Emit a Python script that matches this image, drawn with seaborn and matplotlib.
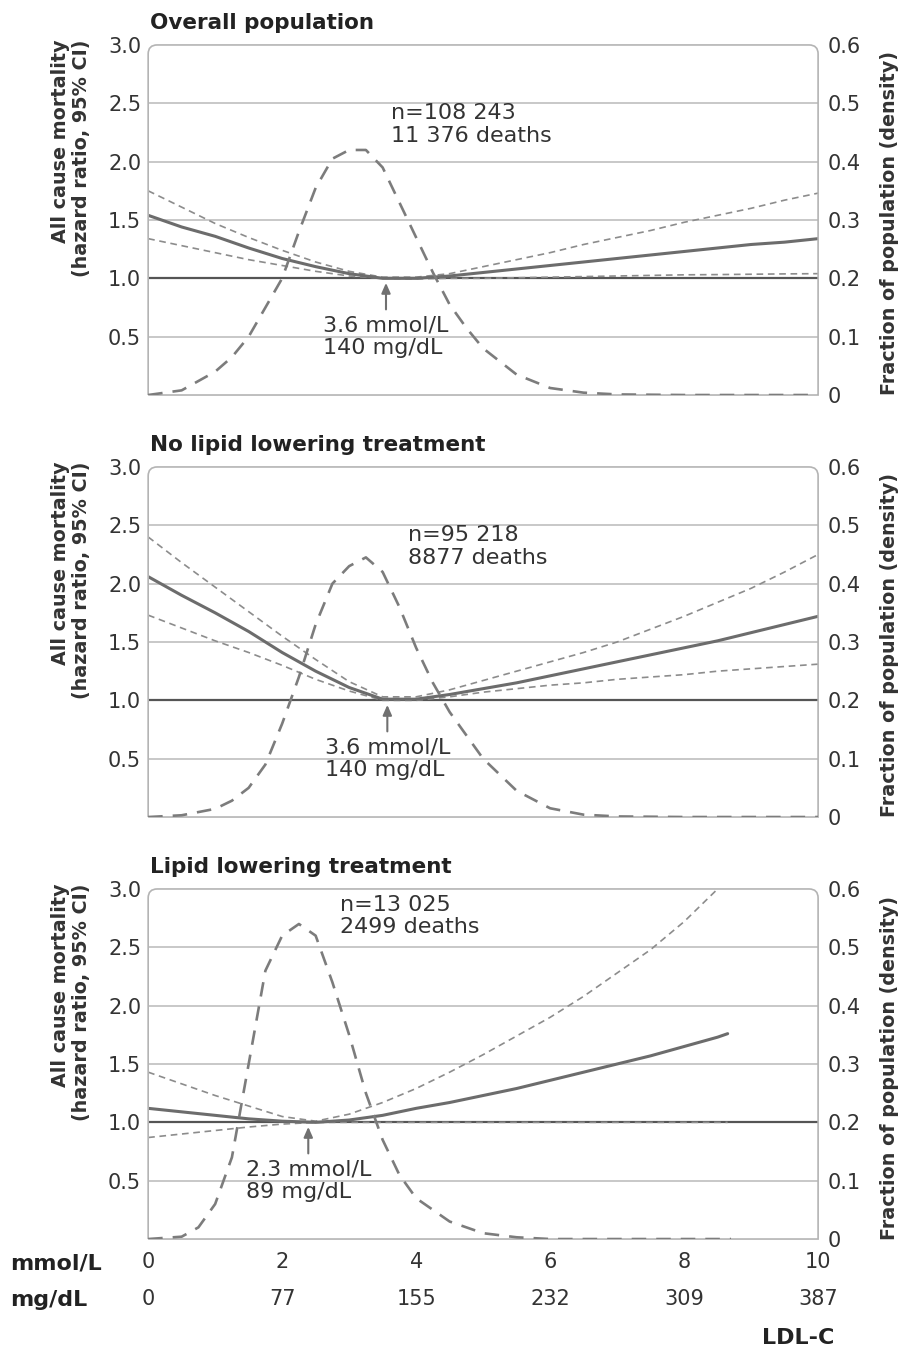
"""
LDL-C and all cause mortality -- three panel hazard ratio / density figure
"""
import numpy as np
import pandas as pd
import matplotlib.pyplot as plt
from matplotlib.path import Path
from matplotlib.patches import PathPatch
import seaborn as sns

# -- Data ----------------------------------------------------------------------
HR_X = [0, 0.5, 1, 1.5, 2, 2.5, 3, 3.5, 4, 4.5, 5, 5.5, 6, 6.5, 7, 7.5, 8, 8.5, 9, 9.5, 10]

P1_HR    = [1.54, 1.44, 1.36, 1.26, 1.17, 1.10, 1.04, 1.00, 1.00, 1.02, 1.05, 1.08, 1.11, 1.14, 1.17, 1.20, 1.23, 1.26, 1.29, 1.31, 1.34]
P1_UPPER = [1.75, 1.61, 1.47, 1.35, 1.24, 1.14, 1.06, 1.01, 1.01, 1.04, 1.10, 1.16, 1.22, 1.29, 1.35, 1.41, 1.48, 1.54, 1.60, 1.67, 1.73]
P1_LOWER = [1.34, 1.28, 1.22, 1.16, 1.11, 1.06, 1.02, 1.00, 0.995, 1.00, 1.00, 1.005, 1.01, 1.015, 1.02, 1.025, 1.03, 1.032, 1.035, 1.038, 1.04]

P2_HR    = [2.06, 1.90, 1.75, 1.59, 1.41, 1.25, 1.11, 1.01, 1.01, 1.05, 1.10, 1.15, 1.21, 1.27, 1.33, 1.39, 1.45, 1.51, 1.58, 1.65, 1.72]
P2_UPPER = [2.40, 2.18, 1.97, 1.76, 1.55, 1.35, 1.16, 1.03, 1.03, 1.09, 1.17, 1.25, 1.33, 1.41, 1.50, 1.61, 1.72, 1.84, 1.96, 2.10, 2.25]
P2_LOWER = [1.73, 1.62, 1.51, 1.41, 1.30, 1.18, 1.08, 1.00, 1.00, 1.03, 1.07, 1.10, 1.13, 1.15, 1.18, 1.20, 1.22, 1.25, 1.27, 1.29, 1.31]

HR_X3    = [0, 0.5, 1, 1.5, 2, 2.5, 3, 3.5, 4, 4.5, 5, 5.5, 6, 6.5, 7, 7.5, 8, 8.5, 8.65]
P3_HR    = [1.12, 1.09, 1.06, 1.03, 1.01, 1.00, 1.02, 1.06, 1.12, 1.17, 1.23, 1.29, 1.36, 1.43, 1.50, 1.57, 1.65, 1.73, 1.76]
P3_UPPER = [1.43, 1.33, 1.23, 1.14, 1.05, 1.01, 1.07, 1.17, 1.29, 1.43, 1.58, 1.74, 1.90, 2.08, 2.28, 2.48, 2.72, 3.00, 3.08]
P3_LOWER = [0.87, 0.90, 0.93, 0.96, 0.985, 1.00, 1.00, 1.00, 1.00, 1.00, 1.00, 1.00, 1.00, 1.00, 1.00, 1.00, 1.00, 1.00, 1.00]

DENS_X  = [0, 0.5, 1.0, 1.25, 1.5, 1.75, 2.0, 2.25, 2.5, 2.75, 3.0, 3.25, 3.5, 3.75,
           4.0, 4.25, 4.5, 4.75, 5.0, 5.5, 6.0, 6.5, 7, 8, 9, 10]
P1_DENS = [0, 0.008, 0.04, 0.065, 0.10, 0.15, 0.20, 0.28, 0.355, 0.405, 0.42, 0.42, 0.39, 0.33,
           0.27, 0.21, 0.155, 0.115, 0.08, 0.035, 0.012, 0.004, 0.001, 0, 0, 0]
P2_DENS = [0, 0.003, 0.014, 0.028, 0.05, 0.09, 0.16, 0.24, 0.33, 0.40, 0.43, 0.445, 0.42, 0.36,
           0.29, 0.23, 0.18, 0.14, 0.10, 0.045, 0.015, 0.004, 0.001, 0, 0, 0]
DENS_X3 = [0, 0.5, 0.75, 1.0, 1.25, 1.5, 1.75, 2.0, 2.25, 2.5, 2.75, 3.0, 3.25, 3.5, 3.75,
           4.0, 4.5, 5.0, 5.5, 6.0, 7.0, 8.0, 8.7]
P3_DENS = [0, 0.004, 0.02, 0.06, 0.14, 0.30, 0.46, 0.52, 0.54, 0.52, 0.44, 0.35, 0.25, 0.17, 0.11,
           0.07, 0.03, 0.01, 0.003, 0, 0, 0, 0]

TITLES   = ["Overall population", "No lipid lowering treatment", "Lipid lowering treatment"]
N_TEXT   = ["n=108 243\n11 376 deaths", "n=95 218\n8877 deaths", "n=13 025\n2499 deaths"]
NADIR    = ["3.6 mmol/L\n140 mg/dL", "3.6 mmol/L\n140 mg/dL", "2.3 mmol/L\n89 mg/dL"]
NADIR_X  = [3.55, 3.57, 2.39]
N_POS    = [(3.63, 2.50), (3.88, 2.50), (2.87, 2.95)]

MMOL_TICKS = [0, 2, 4, 6, 8, 10]
MGDL_TICKS = ["0", "77", "155", "232", "309", "387"]
HR_TICKS   = [0.5, 1.0, 1.5, 2.0, 2.5, 3.0]
DENS_TICKS = [0, 0.1, 0.2, 0.3, 0.4, 0.5, 0.6]

# -- Style ---------------------------------------------------------------------
sns.set_theme(style="white")
plt.rcParams["font.family"] = ["DejaVu Sans"]

TEXT   = "#333333"
DARK   = "#222222"
FRAME  = "#b4b4b4"
GRID   = "#c4c4c4"
REF    = "#555555"
SOLID  = "#6c6c6c"
CI     = "#8c8c8c"
DENS   = "#7c7c7c"

FS_TICK = 15
FS_NOTE = 16
FS_LAB  = 13.8
FS_HEAD = 15.5
FS_ROW  = 16

panels = [
    (P1_HR, P1_UPPER, P1_LOWER, HR_X, P1_DENS, DENS_X),
    (P2_HR, P2_UPPER, P2_LOWER, HR_X, P2_DENS, DENS_X),
    (P3_HR, P3_UPPER, P3_LOWER, HR_X3, P3_DENS, DENS_X3),
]
BOTTOMS = [0.7074, 0.3948, 0.0822]
LEFT, WIDTH, HEIGHT = 0.163, 0.737, 0.2593

fig = plt.figure(figsize=(9.09, 13.5), dpi=100, facecolor="white")


def rounded_frame(ax, r_px=9):
    bb = ax.get_position()
    fw, fh = fig.get_size_inches() * fig.dpi
    rx = r_px / (bb.width * fw)
    ry = r_px / (bb.height * fh)
    verts = [(0, 0), (0, 1 - ry), (0, 1), (rx, 1), (1 - rx, 1), (1, 1), (1, 1 - ry), (1, 0), (0, 0)]
    codes = [Path.MOVETO, Path.LINETO, Path.CURVE3, Path.CURVE3, Path.LINETO,
             Path.CURVE3, Path.CURVE3, Path.LINETO, Path.LINETO]
    patch = PathPatch(Path(verts, codes), transform=ax.transAxes, fill=False,
                      edgecolor=FRAME, lw=1.2, clip_on=False, zorder=5)
    ax.add_patch(patch)


for i, (hr, up, lo, hx, dens, dx) in enumerate(panels):
    ax = fig.add_axes([LEFT, BOTTOMS[i], WIDTH, HEIGHT])
    ax2 = ax.twinx()

    # grid + reference line
    for yv in HR_TICKS[:-1]:
        if yv != 1.0:
            ax.axhline(yv, color=GRID, lw=1.3, zorder=1)
    ax.axhline(1.0, color=REF, lw=1.6, zorder=2)

    # hazard ratio curve and 95% CI
    sns.lineplot(x=hx, y=up, ax=ax, color=CI, lw=1.2, linestyle=(0, (4, 2.8)), zorder=3)
    sns.lineplot(x=hx, y=lo, ax=ax, color=CI, lw=1.2, linestyle=(0, (4, 2.8)), zorder=3)
    sns.lineplot(x=hx, y=hr, ax=ax, color=SOLID, lw=2.2, zorder=4)

    # population density
    sns.lineplot(x=dx, y=dens, ax=ax2, color=DENS, lw=1.9, linestyle=(0, (5.5, 3.8)), zorder=3)

    ax.set_xlim(0, 10)
    ax.set_ylim(0, 3)
    ax2.set_ylim(0, 0.6)

    ax.set_yticks(HR_TICKS)
    ax.set_yticklabels([f"{v:.1f}" for v in HR_TICKS])
    ax2.set_yticks(DENS_TICKS)
    ax2.set_yticklabels(["0"] + [f"{v:.1f}" for v in DENS_TICKS[1:]])
    ax.set_xticks(MMOL_TICKS)

    ax.tick_params(axis="y", length=0, pad=5, labelsize=FS_TICK, labelcolor=TEXT)
    ax2.tick_params(axis="y", length=0, pad=7, labelsize=FS_TICK, labelcolor=TEXT)
    ax.tick_params(axis="x", direction="in", length=5, width=1, color=FRAME,
                   pad=9, labelsize=FS_TICK, labelcolor=TEXT, labelbottom=(i == 2))

    for a in (ax, ax2):
        for sp in a.spines.values():
            sp.set_visible(False)
    rounded_frame(ax)

    ax.set_xlabel("")
    ax.set_ylabel("All cause mortality\n(hazard ratio, 95% CI)", fontsize=FS_LAB,
                  fontweight="bold", color=TEXT, loc="top", multialignment="right",
                  linespacing=1.1)
    ax.yaxis.set_label_coords(-0.086, 1.015)
    ax2.set_ylabel("Fraction of population (density)", fontsize=FS_LAB,
                   fontweight="bold", color=TEXT, rotation=90)
    ax2.yaxis.set_label_coords(1.092, 0.49)

    ax.text(0.003, 1.045, TITLES[i], transform=ax.transAxes, fontsize=FS_HEAD,
            fontweight="bold", color=DARK, ha="left", va="baseline")

    ax.text(N_POS[i][0], N_POS[i][1], N_TEXT[i], fontsize=FS_NOTE, color=TEXT,
            ha="left", va="top", linespacing=1.15)

    ax.annotate("", xy=(NADIR_X[i], 0.985), xytext=(NADIR_X[i], 0.71),
                arrowprops=dict(arrowstyle="-|>,head_length=0.5,head_width=0.22",
                                color="#707070", lw=1.5), zorder=6)
    ax.text(NADIR_X[i], 0.68, NADIR[i], fontsize=FS_NOTE, color=TEXT, ha="center",
            va="top", multialignment="left", linespacing=1.15)

    if i == 2:
        ax.set_xticklabels([str(v) for v in MMOL_TICKS])
        sec = ax.secondary_xaxis("bottom")
        sec.set_xticks(MMOL_TICKS)
        sec.set_xticklabels(MGDL_TICKS)
        sec.tick_params(length=0, pad=36, labelsize=FS_TICK, labelcolor=TEXT)
        sec.spines["bottom"].set_visible(False)
        ax.text(-0.206, -0.069, "mmol/L", transform=ax.transAxes, fontsize=FS_ROW,
                fontweight="bold", color=DARK, ha="left", va="center")
        ax.text(-0.206, -0.174, "mg/dL", transform=ax.transAxes, fontsize=FS_ROW,
                fontweight="bold", color=DARK, ha="left", va="center")
        ax.text(1.025, -0.283, "LDL-C", transform=ax.transAxes, fontsize=FS_ROW,
                fontweight="bold", color=DARK, ha="right", va="center")

fig.savefig("out.png", dpi=100, facecolor="white")
